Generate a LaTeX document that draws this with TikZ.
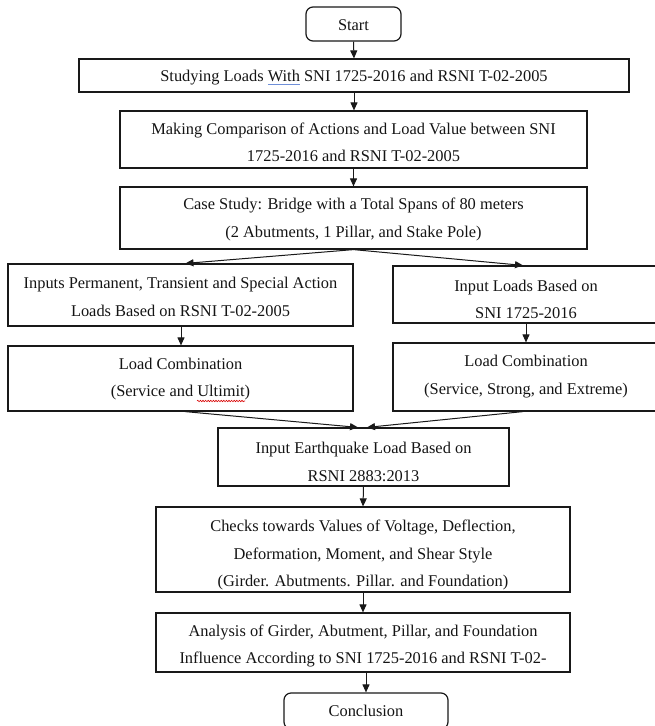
\documentclass[tikz,border=0pt]{standalone}
\usepackage{fontspec}
\setmainfont{Liberation Serif}
\usetikzlibrary{arrows.meta,fit,decorations.pathmorphing}
\newcommand\spellblue[1]{\sbox0{#1}\rlap{\color[HTML]{6F8FD8}\rule[-3pt]{\wd0}{1.2pt}}#1}
\tikzset{
  boxshape/.style={draw=black!90, line width=1.2pt, rectangle, inner sep=0pt},
  termshape/.style={boxshape, rounded corners=7pt},
  txt/.style={inner sep=0pt, align=center, font=\fontsize{16.4pt}{27.5pt}\selectfont, text=black!92},
  flow/.style={draw=black!90, line width=1pt, -{Triangle[length=8pt,width=7pt]}},
  redwave/.style={draw=red!85!black, line width=0.6pt, decorate, decoration={snake, amplitude=0.7pt, segment length=2.6pt}},
}
\begin{document}
\begin{tikzpicture}[x=1pt,y=-1pt]
\useasboundingbox (0,0) rectangle (655,726);
% boxes
\node[termshape, fit={(306,7)(401,41)}] (start) {};
\node[boxshape, fit={(79,59)(629,92)}] (b2) {};
\node[boxshape, fit={(120,111)(587,168)}] (b3) {};
\node[boxshape, fit={(120,187)(587,249)}] (b4) {};
\node[boxshape, fit={(8,264)(353,326)}] (l1) {};
\node[boxshape, fit={(393,266)(659,323)}] (r1) {};
\node[boxshape, fit={(8,346)(353,411)}] (l2) {};
\node[boxshape, fit={(393,343)(659,411)}] (r2) {};
\node[boxshape, fit={(218,428)(509,486)}] (eq) {};
\node[boxshape, fit={(156,507)(570,592)}] (ck) {};
\node[boxshape, fit={(156,613)(570,672)}] (an) {};
\node[termshape, fit={(284,693)(448,729)}] (conc) {};
% texts
\node[txt] (tstart) at (353.5,25.5) {Start};
\node[txt] (t2) at (354,78) {Studying Loads \spellblue{With} SNI 1725-2016 and RSNI T-02-2005};
\node[txt] (t3) at (353.5,142.5) {Making Comparison of Actions and Load Value between SNI\\1725-2016 and RSNI T-02-2005};
\node[txt] (t4) at (353.5,219.5) {Case Study: Bridge with a Total Spans of 80 meters\\(2 Abutments, 1 Pillar, and Stake Pole)};
\node[txt] (tl1) at (180.5,297) {Inputs Permanent, Transient and Special Action\\Loads Based on RSNI T-02-2005};
\node[txt] (tr1) at (526,299.5) {Input Loads Based on\\SNI 1725-2016};
\node[txt] (tl2) at (180.5,379) {Load Combination\\(Service and Ultimit)};
\node[txt] (tr2) at (526,376.5) {Load Combination\\(Service, Strong, and Extreme)};
\node[txt] (teq) at (363.5,462) {Input Earthquake Load Based on\\RSNI 2883:2013};
\node[txt] (tck) at (363,555) {Checks towards Values of Voltage, Deflection,\\Deformation, Moment, and Shear Style\\(Girder. Abutments. Pillar. and Foundation)};
\node[txt] (tan) at (363,646) {Analysis of Girder, Abutment, Pillar, and Foundation\\Influence According to SNI 1725-2016 and RSNI T-02-};
\node[txt] (tconc) at (366,711) {Conclusion};
\draw[redwave] (197,401) -- (245,401);
% connectors
\draw[flow] (start.south) -- (b2.north);
\draw[flow] (b2.south) -- (b2.south |- b3.north);
\draw[flow] (b3.south) -- (b4.north);
\draw[flow] (b4.south) -- ([xshift=5pt]l1.north);
\draw[flow] (b4.south) -- ([xshift=-3pt]r1.north);
\draw[flow] ([xshift=0.5pt]l1.south) -- ([xshift=0.5pt]l2.north);
\draw[flow] (r1.south) -- (r2.north);
\draw[flow] ([xshift=4.5pt]l2.south) -- ([xshift=-5.5pt]eq.north);
\draw[flow] ([xshift=-3pt]r2.south) -- ([xshift=3.5pt]eq.north);
\draw[flow] (eq.south) -- (ck.north);
\draw[flow] (ck.south) -- (an.north);
\draw[flow] (an.south -| conc.north) -- (conc.north);
\end{tikzpicture}
\end{document}
